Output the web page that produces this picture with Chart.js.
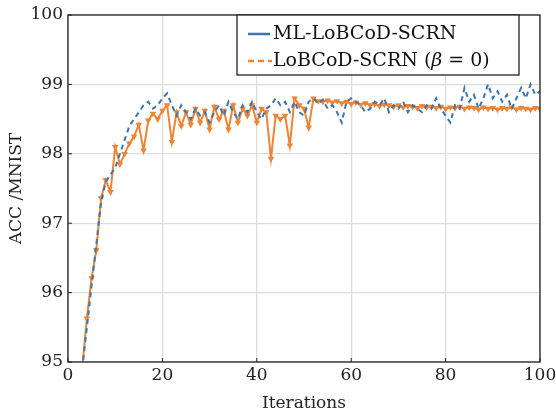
<!DOCTYPE html>
<html>
<head>
<meta charset="utf-8">
<script src="https://cdn.jsdelivr.net/npm/chart.js@4.4.0/dist/chart.umd.min.js"></script>
<style>
  body { margin: 0; background: #fff; }
  canvas { display: block; }
</style>
</head>
<body>
<canvas id="accplot" width="556" height="414"></canvas>
<script>
// iterations shown on the x axis
var iterations = [];
for (var i = 3; i <= 100; i++) iterations.push(i);

// ML-LoBCoD-SCRN (blue, dashed)
var mlAcc = [94.9, 95.5, 96.1, 96.7, 97.3, 97.6, 97.7, 97.8, 98.0, 98.2,
    98.4, 98.5, 98.6, 98.7, 98.75, 98.65, 98.7, 98.8, 98.87, 98.7,
    98.55, 98.7, 98.6, 98.5, 98.65, 98.55, 98.6, 98.45, 98.6, 98.7,
    98.55, 98.75, 98.6, 98.5, 98.7, 98.6, 98.75, 98.6, 98.5, 98.65,
    98.7, 98.8, 98.7, 98.75, 98.6, 98.75, 98.6, 98.55, 98.75, 98.8,
    98.72, 98.78, 98.65, 98.7, 98.6, 98.45, 98.75, 98.8, 98.75, 98.7,
    98.6, 98.65, 98.75, 98.7, 98.8, 98.6, 98.7, 98.65, 98.75, 98.6,
    98.7, 98.65, 98.6, 98.7, 98.65, 98.8, 98.65, 98.55, 98.45, 98.7,
    98.65, 98.95, 98.75, 98.85, 98.65, 98.8, 99.0, 98.8, 98.9, 98.75,
    98.85, 98.65, 98.8, 98.95, 98.8, 99.0, 98.85, 98.9];

// LoBCoD-SCRN (beta = 0) (orange, markers)
var betaZeroAcc = [94.9, 95.63, 96.21, 96.61, 97.36, 97.62, 97.45, 98.1, 97.85, 98.0,
    98.15, 98.25, 98.42, 98.05, 98.48, 98.58, 98.5, 98.62, 98.7, 98.17,
    98.6, 98.4, 98.6, 98.42, 98.65, 98.45, 98.62, 98.35, 98.68, 98.5,
    98.62, 98.35, 98.7, 98.45, 98.65, 98.55, 98.7, 98.45, 98.65, 98.6,
    97.93, 98.55, 98.5, 98.55, 98.12, 98.8, 98.7, 98.65, 98.38, 98.8,
    98.76, 98.75, 98.77, 98.74, 98.76, 98.73, 98.75, 98.72, 98.74, 98.71,
    98.73, 98.7, 98.72, 98.69, 98.71, 98.7, 98.68, 98.7, 98.67, 98.69,
    98.68, 98.66, 98.69, 98.67, 98.68, 98.66, 98.68, 98.65, 98.67, 98.66,
    98.68, 98.65, 98.67, 98.66, 98.64, 98.67, 98.65, 98.66, 98.64, 98.66,
    98.65, 98.67, 98.64, 98.66, 98.65, 98.64, 98.66, 98.65];

var xTicks = [0, 20, 40, 60, 80, 100];
var yTicks = [95, 96, 97, 98, 99, 100];

var blue = '#3c76ad';
var orange = '#ee8434';
var serif = '"DejaVu Serif", "Liberation Serif", serif';

function pairs(xs, ys) {
    return xs.map(function (x, k) { return {x: x, y: ys[k]}; });
}

// frame, inward ticks and the boxed legend
var framePlugin = {
    id: 'frame',
    afterDraw: function (chart) {
        var ctx = chart.ctx;
        var a = chart.chartArea;
        ctx.save();
        ctx.strokeStyle = '#222';
        ctx.lineWidth = 1.3;
        ctx.strokeRect(a.left, a.top, a.right - a.left, a.bottom - a.top);
        ctx.lineWidth = 1;
        xTicks.forEach(function (v) {
            var px = chart.scales.x.getPixelForValue(v);
            ctx.beginPath(); ctx.moveTo(px, a.bottom); ctx.lineTo(px, a.bottom - 4); ctx.stroke();
        });
        yTicks.forEach(function (v) {
            var py = chart.scales.y.getPixelForValue(v);
            ctx.beginPath(); ctx.moveTo(a.left, py); ctx.lineTo(a.left + 4, py); ctx.stroke();
        });

        // legend box
        var bx = 237, by = 15, bw = 282, bh = 60;
        ctx.fillStyle = '#fff';
        ctx.fillRect(bx, by, bw, bh);
        ctx.strokeStyle = '#222';
        ctx.lineWidth = 1.3;
        ctx.strokeRect(bx, by, bw, bh);

        ctx.lineWidth = 2.5;
        ctx.strokeStyle = blue;
        ctx.beginPath(); ctx.moveTo(248, 34); ctx.lineTo(270, 34); ctx.stroke();
        ctx.strokeStyle = orange;
        ctx.setLineDash([6, 4]);
        ctx.beginPath(); ctx.moveTo(248, 61); ctx.lineTo(272, 61); ctx.stroke();
        ctx.setLineDash([]);

        ctx.fillStyle = '#111';
        ctx.textBaseline = 'middle';
        ctx.font = '19px ' + serif;
        ctx.fillText(chart.data.datasets[0].label, 273, 34);
        var p1 = 'LoBCoD-SCRN (';
        ctx.fillText(p1, 273, 61);
        var x = 273 + ctx.measureText(p1).width;
        ctx.font = 'italic 19px ' + serif;
        ctx.fillText('\u03b2', x, 61);
        x += ctx.measureText('\u03b2').width;
        ctx.font = '19px ' + serif;
        ctx.fillText(' = 0)', x, 61);
        ctx.restore();
    }
};

var ctx = document.getElementById('accplot').getContext('2d');
var accChart = new Chart(ctx, {
    type: 'line',
    data: {
        datasets: [
            {
                label: 'ML-LoBCoD-SCRN',
                data: pairs(iterations, mlAcc),
                borderColor: blue,
                borderWidth: 2,
                borderDash: [5, 4],
                pointRadius: 0,
                tension: 0
            },
            {
                label: 'LoBCoD-SCRN (\u03b2 = 0)',
                data: pairs(iterations, betaZeroAcc),
                borderColor: orange,
                backgroundColor: orange,
                borderWidth: 2,
                pointStyle: 'triangle',
                pointRadius: 1.8,
                pointRotation: 180,
                tension: 0
            }
        ]
    },
    options: {
        responsive: false,
        animation: false,
        layout: { padding: { top: 15, right: 16, left: 0, bottom: 0 } },
        plugins: {
            legend: { display: false },
            tooltip: { enabled: false }
        },
        scales: {
            x: {
                type: 'linear',
                min: 0,
                max: 100,
                afterFit: function (s) { s.height = 52; s.paddingLeft = 0; s.paddingRight = 0; },
                afterBuildTicks: function (s) {
                    s.ticks = xTicks.map(function (v) { return {value: v}; });
                },
                grid: { color: '#dcdcdc', lineWidth: 1.3, drawTicks: false },
                border: { display: false },
                ticks: { font: { family: serif, size: 17 }, color: '#222', padding: 3, maxRotation: 0 },
                title: { display: true, text: 'Iterations', font: { family: serif, size: 17 }, color: '#222', padding: { top: 0, bottom: 0 } }
            },
            y: {
                min: 95,
                max: 100,
                afterFit: function (s) { s.width = 68; s.paddingTop = 0; s.paddingBottom = 0; },
                afterBuildTicks: function (s) {
                    s.ticks = yTicks.map(function (v) { return {value: v}; });
                },
                grid: { color: '#dcdcdc', lineWidth: 1.3, drawTicks: false },
                border: { display: false },
                ticks: { font: { family: serif, size: 17 }, color: '#222', padding: 5 },
                title: { display: true, text: 'ACC /MNIST', font: { family: serif, size: 17 }, color: '#222', padding: { top: 6, bottom: 4 } }
            }
        }
    },
    plugins: [framePlugin]
});
</script>
</body>
</html>
